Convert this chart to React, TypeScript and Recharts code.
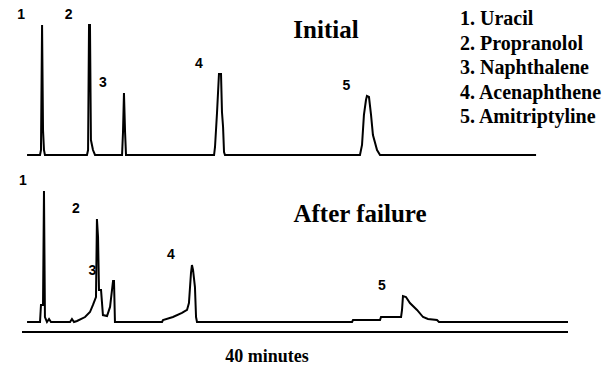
import { LineChart, Line, XAxis, YAxis, ReferenceDot } from 'recharts';

// retention time (min) / detector signal (relative, peak 1 = 100)
const initialTrace: [number, number][] = [
  [0.37, 0], [1.32, 0], [1.39, 3.8], [1.47, 100], [1.54, 19.2], [1.61, 3.8], [1.68, 0],
  [4.76, 0], [4.84, 3.8], [4.91, 100], [4.98, 100], [5.05, 11.5], [5.2, 3.8], [5.35, 0],
  [7.33, 0], [7.4, 17.7], [7.47, 47.7], [7.55, 17.7], [7.62, 0],
  [14.07, 0], [14.14, 6.2], [14.29, 33.1], [14.43, 62.3], [14.58, 62.3], [14.65, 33.1],
  [14.73, 21.5], [14.8, 2.3], [14.87, 0],
  [24.76, 0], [24.91, 7.7], [25.05, 30.8], [25.2, 42.3], [25.27, 45.4], [25.42, 44.6],
  [25.57, 30.8], [25.71, 15.4], [26.01, 3.8], [26.23, 0],
  [37.66, 0],
];

const failureTrace: [number, number][] = [
  [0.37, 0], [1.32, 0], [1.39, 13], [1.54, 13], [1.61, 100], [1.68, 3.8], [1.83, 0],
  [1.98, 2.3], [2.12, 0], [3.52, 0], [3.66, 2.3], [3.81, 0],
  [4.03, 0.8], [4.62, 3.8], [4.98, 7.6], [5.2, 13], [5.42, 19.1], [5.49, 78.6], [5.57, 64.9],
  [5.64, 24.4], [5.79, 24.4], [5.93, 5.3], [6.23, 4.6], [6.45, 11.5], [6.67, 31.3],
  [6.74, 31.3], [6.81, 0],
  [10.26, 0], [10.33, 1.5], [11.06, 3.8], [11.72, 6.9], [12.09, 9.2], [12.23, 14.5],
  [12.38, 37.4], [12.45, 43.5], [12.53, 39.7], [12.67, 26.7], [12.75, 3.8], [12.82, 0],
  [24.18, 0], [24.25, 1.5], [26.23, 1.5], [26.3, 3.8], [27.77, 3.8], [27.84, 9.2],
  [27.91, 19.8], [28.13, 19.1], [28.42, 14.5], [28.94, 9.2], [29.38, 3.8], [29.74, 2.3],
  [30.4, 1.5], [30.55, 0],
  [40, 0],
];

// peak apex (time, signal) used to hang the peak numbers
const initialPeaks: [string, number, number][] = [
  ['1', 1.47, 100], ['2', 4.95, 100], ['3', 7.47, 47.7], ['4', 14.5, 62.3], ['5', 25.3, 45.4],
];
const failurePeaks: [string, number, number][] = [
  ['1', 1.61, 100], ['2', 5.49, 78.6], ['3', 6.7, 31.3], ['4', 12.45, 43.5], ['5', 27.91, 19.8],
];

const compounds = ['1. Uracil', '2. Propranolol', '3. Naphthalene', '4. Acenaphthene', '5. Amitriptyline'];

const serif = '"Liberation Serif", "Times New Roman", serif';
const sans = '"Liberation Sans", Arial, sans-serif';

const toRows = (trace: [number, number][]) => trace.map(([t, s]) => ({ t, s }));

const PeakNumber = ({ cx, cy, n }: any) => (
  <text
    x={cx - 21}
    y={cy - 11}
    textAnchor="middle"
    dominantBaseline="central"
    fontFamily={sans}
    fontWeight="bold"
    fontSize={14}
    fill="#000"
  >
    {n}
  </text>
);

export default function App() {
  return (
    <div style={{ position: 'absolute', left: 0, top: 0, background: '#fff' }}>
      <LineChart width={616} height={367} margin={{ top: 0, right: 48, bottom: 0, left: 22 }}>
        <XAxis
          type="number"
          dataKey="t"
          domain={[0, 40]}
          height={35}
          tick={false}
          tickLine={false}
          axisLine={{ stroke: '#000', strokeWidth: 2 }}
          label={{
            content: ({ viewBox }: any) => (
              <text
                x={viewBox.x + viewBox.width / 2 - 28}
                y={viewBox.y + 24}
                textAnchor="middle"
                dominantBaseline="central"
                fontFamily={serif}
                fontWeight="bold"
                fontSize={18}
                fill="#000"
              >
                40 minutes
              </text>
            ),
          }}
        />
        <YAxis yAxisId="initial" hide width={0} type="number" domain={[-136.15, 119.23]} allowDataOverflow />
        <YAxis yAxisId="failure" hide width={0} type="number" domain={[-7.63, 245.8]} allowDataOverflow />
        <Line
          yAxisId="initial"
          data={toRows(initialTrace)}
          dataKey="s"
          type="linear"
          stroke="#000"
          strokeWidth={2}
          dot={false}
          isAnimationActive={false}
        />
        <Line
          yAxisId="failure"
          data={toRows(failureTrace)}
          dataKey="s"
          type="linear"
          stroke="#000"
          strokeWidth={2}
          dot={false}
          isAnimationActive={false}
        />
        {initialPeaks.map(([n, t, s]) => (
          <ReferenceDot
            key={'i' + n}
            yAxisId="initial"
            x={t}
            y={s}
            r={0}
            ifOverflow="visible"
            shape={(p: any) => <PeakNumber {...p} n={n} />}
          />
        ))}
        {failurePeaks.map(([n, t, s]) => (
          <ReferenceDot
            key={'f' + n}
            yAxisId="failure"
            x={t}
            y={s}
            r={0}
            ifOverflow="visible"
            shape={(p: any) => <PeakNumber {...p} n={n} />}
          />
        ))}
        <text x={326} y={29} textAnchor="middle" dominantBaseline="central" fontFamily={serif} fontWeight="bold" fontSize={25} fill="#000">
          Initial
        </text>
        <text x={360} y={213} textAnchor="middle" dominantBaseline="central" fontFamily={serif} fontWeight="bold" fontSize={25} fill="#000">
          After failure
        </text>
        {compounds.map((c, i) => (
          <text key={c} x={460} y={18 + i * 24.5} dominantBaseline="central" fontFamily={serif} fontWeight="bold" fontSize={20} fill="#000">
            {c}
          </text>
        ))}
      </LineChart>
    </div>
  );
}
